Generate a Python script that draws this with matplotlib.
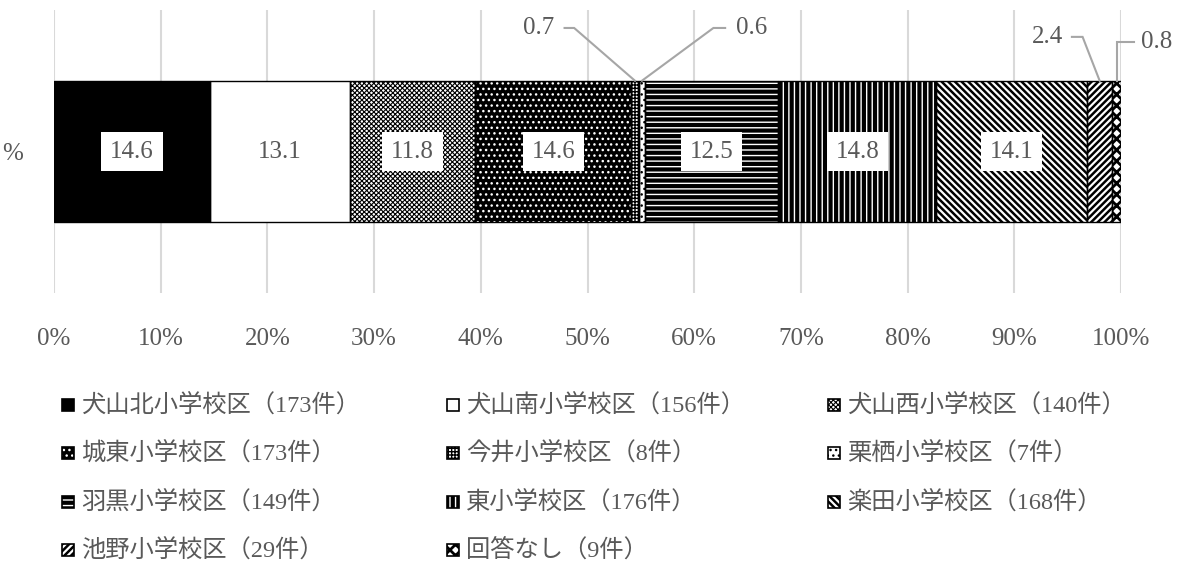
import matplotlib
matplotlib.use("Agg")
import matplotlib.pyplot as plt
from matplotlib.patches import Rectangle
import numpy as np

plt.rcParams['font.family'] = ['Liberation Serif', 'Noto Sans CJK JP']

schools = ["犬山北小学校区", "犬山南小学校区", "犬山西小学校区", "城東小学校区",
           "今井小学校区", "栗栖小学校区", "羽黒小学校区", "東小学校区",
           "楽田小学校区", "池野小学校区", "回答なし"]
counts = [173, 156, 140, 173, 8, 7, 149, 176, 168, 29, 9]
shares = [14.6, 13.1, 11.8, 14.6, 0.7, 0.6, 12.5, 14.8, 14.1, 2.4, 0.8]
ticks = [0, 10, 20, 30, 40, 50, 60, 70, 80, 90, 100]

# (face colour, hatch, hatch colour, hatch width) for each segment
styles = [
    ("black", None, "black", 1.0),
    ("white", None, "black", 1.0),
    ("white", "xxxxxxx", "black", 0.8),
    ("black", "...", "white", 1.0),
    ("white", "+++++", "black", 1.0),
    ("white", "...", "black", 1.0),
    ("white", "---", "black", 3.0),
    ("white", "|||", "black", 3.0),
    ("white", "\\\\\\\\\\", "black", 1.8),
    ("white", "/////", "black", 1.8),
    ("white", "xxx", "black", 2.0),
]

TXT = "#595959"
FS = 18
W, H = 1186, 564
fig = plt.figure(figsize=(W / 100, H / 100), dpi=100)
ax = fig.add_axes([54 / W, 1 - 293 / H, (1121 - 54) / W, (293 - 10) / H])


def make_patch(kind, *args, **kw):
    face, hatch, hcol, hlw = kind
    with plt.rc_context({"hatch.linewidth": hlw}):
        p = Rectangle(*args, facecolor=face, edgecolor=hcol, hatch=hatch,
                      linewidth=0, **kw)
    if hasattr(p, "set_hatch_linewidth"):
        p.set_hatch_linewidth(hlw)
    return p


left = np.concatenate([[0], np.cumsum(shares)[:-1]])
for i, v in enumerate(shares):
    ax.add_patch(make_patch(styles[i], (left[i], -0.5), v, 1.0, zorder=2))
    ax.add_patch(Rectangle((left[i], -0.5), v, 1.0, fill=False,
                           edgecolor="black", linewidth=1.0, zorder=3))
    if v >= 5:
        ax.text(left[i] + v / 2, 0, f"{v:.1f}", ha="center", va="center",
                fontsize=FS, color=TXT, zorder=5,
                bbox=dict(boxstyle="square,pad=0.35", fc="white", ec="none"))

# callouts for the thin segments: (index, elbow x offset, elbow y, stub, text offset)
callouts = [(4, -5.7, 0.873, -0.9, -1.0),
            (5, 6.7, 0.873, 1.1, 1.0),
            (9, -1.6, 0.81, -1.0, -0.8),
            (10, 0.0, 0.775, 1.6, 0.7)]
for idx, dx, ey, stub, tx in callouts:
    cx = left[idx] + shares[idx] / 2
    ex = cx + dx
    ax.plot([cx, ex, ex + stub], [0.5, ey, ey], color="#a6a6a6", lw=1.5,
            clip_on=False, zorder=4, solid_joinstyle="miter")
    ha = "right" if stub < 0 else "left"
    ax.text(ex + stub + tx, ey, f"{shares[idx]:.1f}", ha=ha, va="center",
            fontsize=FS, color=TXT)

ax.set_xlim(0, 100)
ax.set_ylim(-1, 1)
ax.set_xticks(ticks)
ax.set_xticklabels([f"{t}%" for t in ticks])
ax.set_yticks([0])
ax.set_yticklabels(["%"])
ax.tick_params(axis="both", length=0, labelsize=FS, colors=TXT)
ax.tick_params(axis="x", pad=25)
ax.tick_params(axis="y", pad=22)
ax.grid(axis="x", color="#d9d9d9", lw=1.5, zorder=0)
ax.set_axisbelow(True)
for s in ax.spines.values():
    s.set_visible(False)

# legend laid out row by row, three per row
col_x = [62, 447, 828]
row_y = [405, 453, 502, 550]
for i, (name, n) in enumerate(zip(schools, counts)):
    x = col_x[i % 3]
    y = row_y[i // 3]
    sw = make_patch(styles[i], (x / W, 1 - (y + 6) / H), 12 / W, 12 / H,
                    transform=fig.transFigure)
    fig.add_artist(sw)
    fig.add_artist(Rectangle((x / W, 1 - (y + 6) / H), 12 / W, 12 / H,
                             fill=False, edgecolor="black", linewidth=1.2,
                             transform=fig.transFigure))
    fig.text((x + 19) / W, 1 - y / H, f"{name}（{n}件）", ha="left",
             va="center", fontsize=17.5, color=TXT)

fig.savefig("out.png", dpi=100)
